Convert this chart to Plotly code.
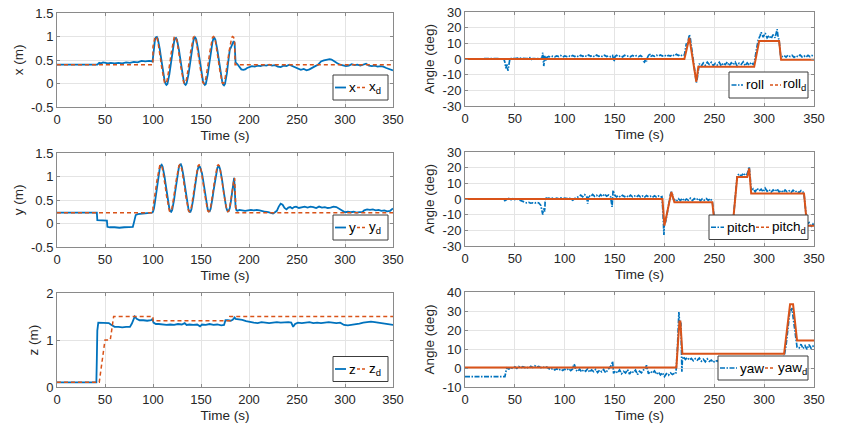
import plotly.graph_objects as go

# The page body has an 8px default margin, so the figure is drawn 8px in from the
# window corner; size it so that it ends exactly at the 857x423 window edge.
OFF = 8
W, H = 857 - OFF, 423 - OFF
FONT = "Liberation Sans, Arial, Helvetica, sans-serif"
TXT = "#262626"
AXC = "#8a8a8a"
GRID = "#e4e4e4"
BLUE = "#0072BD"
ORANGE = "#D95319"

# ---------------- data ----------------
time_ticks = [0, 50, 100, 150, 200, 250, 300, 350]
time_ticktext = ["0", "50", "100", "150", "200", "250", "300", "350"]
pos_ticks = [-0.5, 0, 0.5, 1, 1.5]
pos_ticktext = ["-0.5", "0", "0.5", "1", "1.5"]
z_ticks = [0, 1, 2]
z_ticktext = ["0", "1", "2"]
ang_ticks = [-30, -20, -10, 0, 10, 20, 30]
ang_ticktext = ["-30", "-20", "-10", "0", "10", "20", "30"]
yaw_ticks = [-10, 0, 10, 20, 30, 40]
yaw_ticktext = ["-10", "0", "10", "20", "30", "40"]

# x position (m)
t_x = ([0, 42, 44, 46, 48, 50, 53, 56, 60, 64, 68, 72, 76, 80, 84, 88, 92, 96, 99.5]
       + list(range(100, 187))
       + [188, 190, 192, 194, 196, 198, 200, 203, 206, 209, 212, 215, 218, 221, 224, 227, 230,
          233, 236, 239, 242, 245, 248, 251, 254, 257, 260, 263, 266, 269, 272, 275, 278, 281,
          284, 286, 289, 292, 295, 298, 301, 304, 307, 310, 313, 316, 319, 322, 325, 328, 331,
          334, 337, 340, 343, 346, 349, 350])
x_meas = ([0.40, 0.40, 0.44, 0.43, 0.45, 0.44, 0.43, 0.44, 0.43, 0.44, 0.43, 0.45, 0.44, 0.46,
           0.45, 0.48, 0.47, 0.48, 0.47]
          + [0.55, 0.78, 0.92, 0.98, 0.99, 0.95, 0.86, 0.74, 0.60, 0.45, 0.30, 0.17, 0.07, 0.00,
             -0.03, -0.01, 0.07, 0.19, 0.33, 0.49,
             0.64, 0.78, 0.89, 0.96, 0.97, 0.93, 0.84, 0.72, 0.58, 0.43, 0.28, 0.15, 0.05, -0.01,
             -0.03, 0.00, 0.08, 0.20, 0.34, 0.50,
             0.65, 0.79, 0.90, 0.97, 0.98, 0.94, 0.85, 0.73, 0.59, 0.44, 0.29, 0.16, 0.06, 0.00,
             -0.03, -0.01, 0.07, 0.19, 0.33, 0.49,
             0.64, 0.78, 0.89, 0.96, 0.97, 0.93, 0.84, 0.72, 0.58, 0.43, 0.28, 0.15, 0.05, -0.02,
             -0.04, -0.01, 0.08, 0.22, 0.40, 0.58,
             0.72, 0.76, 0.82, 0.88, 0.90, 0.86, 0.45]
          + [0.41, 0.36, 0.30, 0.29, 0.30, 0.33, 0.34, 0.37, 0.36, 0.38, 0.37, 0.39, 0.38, 0.40,
             0.38, 0.39, 0.36, 0.35, 0.38, 0.37, 0.40, 0.37, 0.34, 0.31, 0.29, 0.31, 0.28, 0.30,
             0.34, 0.37, 0.40, 0.47, 0.49, 0.50, 0.52, 0.51, 0.46, 0.43, 0.40, 0.39, 0.37, 0.38,
             0.41, 0.39, 0.40, 0.38, 0.40, 0.42, 0.38, 0.37, 0.38, 0.36, 0.37, 0.36, 0.33, 0.31,
             0.29, 0.28])
t_xd = [0, 99.9] + list(range(100, 186)) + [185.5, 350]
x_des = ([0.4, 0.4]
         + [0.79, 0.90, 0.98, 1.00, 0.98, 0.90, 0.79, 0.65, 0.50, 0.35, 0.21, 0.10, 0.02, 0.00,
            0.02, 0.10, 0.21, 0.35, 0.50, 0.65,
            0.79, 0.90, 0.98, 1.00, 0.98, 0.90, 0.79, 0.65, 0.50, 0.35, 0.21, 0.10, 0.02, 0.00,
            0.02, 0.10, 0.21, 0.35, 0.50, 0.65,
            0.79, 0.90, 0.98, 1.00, 0.98, 0.90, 0.79, 0.65, 0.50, 0.35, 0.21, 0.10, 0.02, 0.00,
            0.02, 0.10, 0.21, 0.35, 0.50, 0.65,
            0.79, 0.90, 0.98, 1.00, 0.98, 0.90, 0.79, 0.65, 0.50, 0.35, 0.21, 0.10, 0.02, 0.00,
            0.02, 0.10, 0.21, 0.35, 0.50, 0.65,
            0.79, 0.90, 0.98, 1.00, 0.98, 0.90]
         + [0.4, 0.4])

# y position (m)
t_y = ([0, 41.5, 42, 47, 52, 52.5, 55, 60, 65, 70, 75, 79, 80.5, 82, 84, 88, 92, 96, 99]
       + list(range(100, 185))
       + [184.5, 185, 186, 187, 188, 190, 193, 196, 199, 202, 205, 208, 211, 214, 217, 220, 223,
          225, 227, 229, 231, 233, 235, 237, 239, 241, 243, 245, 247, 249, 252, 255, 258, 261,
          264, 267, 270, 273, 276, 279, 282, 285, 288, 291, 294, 297, 300, 303, 306, 309, 312,
          315, 318, 320, 323, 326, 329, 332, 335, 338, 341, 344, 347, 350])
y_meas = ([0.23, 0.23, 0.07, 0.06, 0.06, -0.07, -0.08, -0.08, -0.09, -0.08, -0.08, -0.07, 0.05,
           0.18, 0.20, 0.21, 0.21, 0.22, 0.23]
          + [0.25, 0.32, 0.45, 0.60, 0.76, 0.92, 1.06, 1.17, 1.23, 1.25, 1.21, 1.12, 1.00, 0.86,
             0.70, 0.55, 0.42, 0.32, 0.26, 0.25,
             0.29, 0.38, 0.51, 0.66, 0.82, 0.97, 1.10, 1.20, 1.25, 1.26, 1.21, 1.11, 0.98, 0.83,
             0.67, 0.52, 0.39, 0.30, 0.25, 0.25,
             0.30, 0.40, 0.53, 0.68, 0.84, 0.98, 1.10, 1.18, 1.22, 1.20, 1.15, 1.07, 0.95, 0.81,
             0.66, 0.51, 0.39, 0.30, 0.26, 0.26,
             0.31, 0.41, 0.54, 0.69, 0.84, 0.98, 1.10, 1.18, 1.22, 1.21, 1.15, 1.05, 0.92, 0.77,
             0.62, 0.48, 0.37, 0.29, 0.26, 0.27,
             0.33, 0.45, 0.60, 0.78, 0.95]
          + [0.97, 0.80, 0.35, 0.28, 0.27, 0.29, 0.28, 0.27, 0.28, 0.29, 0.28, 0.29, 0.28, 0.26,
             0.25, 0.24, 0.22, 0.21, 0.24, 0.27, 0.36, 0.42, 0.40, 0.33, 0.30, 0.34, 0.35, 0.32,
             0.35, 0.36, 0.33, 0.35, 0.36, 0.34, 0.36, 0.35, 0.33, 0.36, 0.34, 0.35, 0.33, 0.34,
             0.36, 0.35, 0.31, 0.27, 0.24, 0.25, 0.24, 0.25, 0.23, 0.24, 0.24, 0.28, 0.30, 0.29,
             0.30, 0.28, 0.29, 0.27, 0.28, 0.26, 0.27, 0.32])
t_yd = [0, 99.9] + list(range(100, 186)) + [186.5, 350]
y_des = ([0.23, 0.23]
         + [0.35, 0.46, 0.60, 0.75, 0.90, 1.04, 1.15, 1.23, 1.25, 1.23, 1.15, 1.04, 0.90, 0.75,
            0.60, 0.46, 0.35, 0.27, 0.25, 0.27,
            0.35, 0.46, 0.60, 0.75, 0.90, 1.04, 1.15, 1.23, 1.25, 1.23, 1.15, 1.04, 0.90, 0.75,
            0.60, 0.46, 0.35, 0.27, 0.25, 0.27,
            0.35, 0.46, 0.60, 0.75, 0.90, 1.04, 1.15, 1.23, 1.25, 1.23, 1.15, 1.04, 0.90, 0.75,
            0.60, 0.46, 0.35, 0.27, 0.25, 0.27,
            0.35, 0.46, 0.60, 0.75, 0.90, 1.04, 1.15, 1.23, 1.25, 1.23, 1.15, 1.04, 0.90, 0.75,
            0.60, 0.46, 0.35, 0.27, 0.25, 0.27,
            0.35, 0.46, 0.60, 0.75, 0.90, 0.97]
         + [0.23, 0.23])

# z position (m)
t_z = [0, 41, 41.5, 42, 43, 46, 50, 54, 56, 58, 60, 64, 68, 72, 76, 78, 80, 81, 83, 86, 90, 94,
       98, 99.5, 100.5, 103, 106, 110, 114, 118, 122, 126, 130, 133, 135, 138, 142, 146, 149, 151,
       155, 159, 163, 167, 171, 174, 175.5, 178, 181, 183, 185, 186, 189, 193, 197, 201, 205, 209,
       213, 217, 221, 225, 229, 233, 237, 241, 244, 246, 248, 251, 255, 259, 263, 267, 271, 275,
       279, 283, 287, 291, 295, 299, 303, 307, 311, 315, 319, 323, 327, 331, 335, 339, 343, 347,
       350]
z_meas = [0.10, 0.10, 0.60, 1.20, 1.37, 1.37, 1.36, 1.36, 1.33, 1.30, 1.28, 1.28, 1.27, 1.28, 1.28,
          1.35, 1.45, 1.50, 1.45, 1.42, 1.42, 1.41, 1.42, 1.45, 1.37, 1.34, 1.34, 1.33, 1.32, 1.33,
          1.32, 1.34, 1.33, 1.36, 1.32, 1.33, 1.32, 1.33, 1.29, 1.33, 1.32, 1.34, 1.32, 1.33, 1.31,
          1.32, 1.42, 1.42, 1.41, 1.43, 1.48, 1.45, 1.44, 1.43, 1.40, 1.38, 1.37, 1.36, 1.38, 1.37,
          1.36, 1.37, 1.38, 1.37, 1.38, 1.38, 1.37, 1.28, 1.34, 1.37, 1.36, 1.37, 1.38, 1.36, 1.37,
          1.36, 1.37, 1.38, 1.37, 1.36, 1.37, 1.32, 1.31, 1.32, 1.34, 1.35, 1.37, 1.38, 1.39, 1.38,
          1.37, 1.36, 1.35, 1.33, 1.32]
t_zd = [0, 44, 50, 55.5, 59, 100, 100.01, 180, 180.01, 350]
z_des = [0.10, 0.10, 1.00, 1.00, 1.50, 1.50, 1.41, 1.41, 1.50, 1.50]

# roll (deg)
t_roll = [0, 10, 20, 30, 39, 40, 41, 42, 43, 44, 45, 47, 50, 53, 56, 59, 62, 65, 66, 68, 71, 74,
          77, 78, 79, 80, 81, 82, 84, 86, 88, 90, 92, 94, 96, 98, 100, 102, 104, 106, 108, 110,
          112, 114, 116, 118, 120, 122, 124, 126, 128, 130, 132, 134, 136, 138, 140, 142, 144,
          146, 148, 149.5, 150.5, 152, 154, 156, 158, 160, 162, 164, 166, 168, 170, 172, 174, 176,
          178, 179, 180, 181, 182, 183, 185, 186, 188, 190, 192, 194, 196, 198, 200, 202, 204,
          206, 208, 210, 212, 214, 216, 218, 220, 221, 222, 223, 224, 225, 226, 227, 228, 229,
          230, 231, 232, 233, 234, 235, 237, 239, 241, 243, 245, 247, 249, 251, 253, 255, 257,
          259, 261, 263, 265, 267, 269, 271, 273, 275, 277, 279, 281, 283, 285, 287, 289, 290,
          292, 294, 296, 297, 299, 301, 303, 305, 307, 309, 311, 313, 314, 315, 316.5, 318, 320,
          322, 324, 326, 328, 330, 332, 334, 336, 338, 340, 342, 344, 346, 348, 350]
roll_meas = [0, 0.2, 0, 0.3, 0, -2, -6, -3, -7.5, -4, 0, 0.5, 0.3, 0.6, 0.4, 0.5, 0.3, 0.8, -0.5,
             0.3, 0.4, 0.5, 0.3, 4, -4.5, 2, -1, 1, 1.6, 1.2, 1.8, 1.4, 2.0, 1.5, 2.2, 1.3, 1.9,
             1.5, 2.1, 1.4, 2.3, 1.6, 2.0, 1.3, 2.4, 1.7, 2.2, 1.5, 2.6, 1.8, 2.3, 1.4, 2.5, 1.7,
             2.1, 1.5, 2.4, 1.6, 2.0, 1.4, 2.2, -1.5, 1.6, 2.3, 1.5, 2.1, 1.3, 2.4, 1.7, 2.0, 1.4,
             2.3, 1.6, 2.1, 1.5, 2.2, 1.3, -1.5, -2, 0, -1.5, 1, 3.5, 1.5, 2.2, 1.7, 2.4, 1.8, 2.6,
             1.9, 2.5, 1.6, 2.3, 1.9, 2.8, 2.0, 3.0, 2.2, 2.8, 1.9, 2.5, 6, 10, 9, 13, 15.5, 13, 8,
             3, -2, -7, -11, -15, -12, -6, -3, -4.5, -2.5, -4, -2, -3.5, -2.2, -4.2, -2.8, -3.8,
             -2.1, -4.4, -2.6, -3.6, -1.9, -4.3, -2.4, -3.7, -2.0, -4.5, -2.7, -3.5, -1.8, -4.2,
             -2.5, -3.9, -2.2, -3.4, -3, 5, 12, 15, 17, 14, 16.5, 13.5, 15, 13, 15.5, 13.5, 19, 14,
             12, 2, 1.5, 2.2, 1.2, 2.5, 1.6, 2.3, 1.0, 2.1, 1.4, 2.6, 1.3, 2.0, 1.1, 2.4, 1.5, 2.2,
             1.2]
t_rolld = [0, 220, 225, 232, 234, 290, 295, 315, 317, 350]
roll_des = [0, 0, 13.5, -14.5, -5, -5, 11.5, 11.5, -0.5, -0.5]

# pitch (deg)
t_pitch = [0, 39, 40, 42, 44, 46, 48, 50, 52, 55, 58, 60, 62, 64, 66, 68, 70, 72, 74, 76, 77, 78,
           79, 80, 80.5, 82, 84, 86, 88, 90, 92, 94, 96, 98, 100, 102, 104, 106, 108, 110, 112,
           114, 116, 118, 120, 122, 123, 124, 126, 128, 130, 132, 134, 136, 138, 140, 142, 144,
           146, 147.5, 148.5, 150, 152, 154, 156, 158, 160, 162, 164, 166, 168, 170, 172, 174,
           176, 178, 180, 182, 184, 186, 188, 190, 192, 194, 196, 197.5, 198.5, 199, 199.5, 200,
           201, 202, 203, 204, 205, 206, 207, 208, 209, 210, 212, 214, 216, 218, 220, 222, 224,
           226, 228, 230, 232, 234, 236, 238, 240, 242, 244, 246, 248, 250, 251, 268, 270, 272,
           273, 275, 277, 279, 281, 283, 285, 286, 287, 289, 291, 293, 295, 297, 299, 301, 303,
           305, 307, 309, 311, 313, 315, 317, 319, 321, 323, 325, 327, 329, 331, 333, 335, 337,
           339, 340, 342, 343, 345, 347, 349, 350]
pitch_meas = [0, 0, -1, -0.5, 0.3, -0.5, 0.2, -0.4, 0, -0.8, -1.5, -2, -2.5, -2.2, -2.7, -2.4,
              -2.6, -2.2, -2.5, -4, -8, -10, -6, -8, 1, 0.3, 0.6, 0.1, 0.5, 0, 0.6, 0.2, 0.7,
              0.1, 0.5, 0.2, 0.8, 0.1, -0.8, 0.3, 0.8, 1.5, 2.5, 1.4, 2.8, 1.6, -3, 2.2, 1.5,
              2.9, 1.7, 2.4, 1.3, 2.7, 1.6, 3.2, 1.8, 2.5, 1.4, -5, 5.5, 2.6, 1.4, 2.2, 1.2, 2.4,
              1.5, 2.1, 1.1, 2.5, 1.4, 2.0, 1.2, 2.3, 1.3, 1.9, 1.1, 2.2, 1.4, 1.8, 1.0, 2.1, 1.3,
              1.9, 1.2, 1.5, -8, -15, -23, -13, -15, -12, -8, -4, 0, 3, 4.5, 3, 0, -0.5, -1.5,
              0.2, -1.0, 0.4, -1.2, 0.0, -0.8, 0.5, -1.0, 0.2, -0.6, 0.4, -1.1, 0.1, -0.7, 0.3,
              -0.9, 0.2, -1.5, -12, -20, -20, -5, 10, 15, 16, 14.5, 16.5, 15, 16, 20.5, 14, 5,
              6.5, 4.5, 6.8, 5.2, 6.2, 4.6, 6.9, 5.0, 6.0, 4.3, 5.8, 4.8, 6.4, 4.5, 5.5, 4.2, 5.7,
              4.6, 5.3, 4.1, 5.6, 4.4, 5.2, 4.0, 5.4, 4.5, 3, -10, -16, -15, -18, -16, -17]
t_pitchd = [0, 198, 200, 207, 210, 248, 251, 268, 273, 283, 285, 287, 340, 343, 350]
pitch_des = [0, 0, -17, 4.5, -2, -2, -20, -20, 14, 14, 19.5, 3.5, 3.5, -17, -17]

# yaw (deg)
t_yaw = [0, 40, 41, 42, 44, 46, 48, 50, 52, 54, 56, 58, 60, 62, 64, 66, 68, 70, 72, 74, 76, 78,
         80, 82, 84, 86, 88, 90, 92, 94, 96, 98, 100, 102, 104, 106, 108, 109, 110, 111, 113,
         115, 117, 119, 121, 123, 125, 127, 129, 131, 133, 135, 137, 139, 141, 143, 145, 147,
         148, 149, 151, 153, 155, 157, 159, 161, 163, 165, 167, 169, 171, 173, 175, 177, 179,
         181, 182, 184, 186, 188, 190, 192, 194, 196, 198, 200, 202, 204, 206, 208, 210, 211.5,
         213, 214, 214.5, 215.5, 216.5, 217, 217.5, 218, 219, 221, 223, 225, 227, 229, 231, 233,
         235, 237, 239, 241, 243, 245, 247, 249, 251, 253, 255, 258, 262, 266, 270, 274, 278,
         282, 286, 290, 294, 298, 302, 306, 310, 314, 318, 320, 322, 324, 326, 327, 328, 329,
         331, 333, 335, 337, 339, 341, 343, 345, 347, 349, 350]
yaw_meas = [-4.5, -4.5, -2, 0, -0.5, 0.3, -0.4, 0.6, -0.2, 0.8, 0.1, 0.7, 0.2, 0.5, -0.1, 0.9,
            0.3, 1.2, 0.4, 0.8, 0.2, 0.6, 0.1, 0.5, -0.3, -0.8, -0.2, -1.0, -0.4, -1.2, -0.5,
            -1.3, -0.6, -1.1, -0.3, -1.4, -0.5, 2, 1.5, -1.0, -1.8, -0.6, -2.0, -0.9, -1.7, -0.4,
            -2.2, -1.0, -1.9, -0.7, -2.4, -1.1, -2.0, -0.8, -2.5, -1.2, -0.2, 1.5, 3.5, -2.8,
            -1.5, -2.6, -1.0, -3.0, -1.8, -2.6, -0.9, -3.2, -1.6, -2.4, -1.1, -3.5, -1.7, -2.5,
            -1.0, -0.5, 1.5, -3.0, -1.8, -2.7, -1.5, -3.3, -2.2, -3.6, -2.5, -4.5, -3.0, -3.8,
            -2.6, -3.4, -2.8, -3, 10, 25, 29.5, 22, 24, 12, -2, 4, 6, 4.5, 5.5, 4.2, 5.0, 3.8,
            4.9, 4.1, 5.2, 3.6, 4.6, 3.3, 4.8, 3.5, 4.2, 2.9, 4.0, 3.5, 4.5, 3.8, 4.6, 3.9, 4.8,
            4.1, 5.0, 4.2, 4.9, 4.3, 5.1, 4.4, 5.2, 4.6, 5.5, 4.8, 5.6, 6, 12, 22, 31, 30, 31.5,
            27, 18, 11, 10.5, 12.5, 10.2, 11.8, 9.8, 12.3, 10.5, 11.5, 10.6]
t_yawd = [0, 212, 215, 216, 218, 320, 326, 329, 333, 350]
yaw_des = [0.3, 0.3, 24.5, 24.5, 7.5, 7.5, 33.5, 33.5, 14.5, 14.5]

# ---------------- figure ----------------
fig = go.Figure()


def add_line(t, v, k, color, dash, width):
    fig.add_trace(go.Scatter(
        x=t, y=v, xaxis="x" if k == 1 else f"x{k}", yaxis="y" if k == 1 else f"y{k}",
        mode="lines", line=dict(color=color, dash=dash, width=width),
        showlegend=False, hoverinfo="skip"))


DASH_L = "4px,3px"
DASHDOT = "5px,1.5px,1.5px,1.5px"
add_line(t_x, x_meas, 1, BLUE, "solid", 1.8)
add_line(t_xd, x_des, 1, ORANGE, DASH_L, 1.5)
add_line(t_roll, roll_meas, 2, BLUE, DASHDOT, 1.7)
add_line(t_rolld, roll_des, 2, ORANGE, "solid", 2)
add_line(t_y, y_meas, 3, BLUE, "solid", 1.8)
add_line(t_yd, y_des, 3, ORANGE, DASH_L, 1.5)
add_line(t_pitch, pitch_meas, 4, BLUE, DASHDOT, 1.7)
add_line(t_pitchd, pitch_des, 4, ORANGE, "solid", 2)
add_line(t_z, z_meas, 5, BLUE, "solid", 1.8)
add_line(t_zd, z_des, 5, ORANGE, DASH_L, 1.5)
add_line(t_yaw, yaw_meas, 6, BLUE, DASHDOT, 1.7)
add_line(t_yawd, yaw_des, 6, ORANGE, "solid", 2)

tickfont = dict(family=FONT, size=13, color=TXT)
titlefont = dict(family=FONT, size=13.5, color=TXT)


def px(x):
    return (x - OFF) / W


def py(y):
    return 1 - (y - OFF) / H


LEFT = [px(57), px(393)]
RIGHT = [px(465), px(814)]
rows_left = [(13, 107), (153, 247), (293, 387)]
rows_right = [(12, 106), (152, 246), (292, 387)]

yspec = {
    1: ("x (m)", [-0.5, 1.5], pos_ticks, pos_ticktext),
    2: ("Angle (deg)", [-30, 30], ang_ticks, ang_ticktext),
    3: ("y (m)", [-0.5, 1.5], pos_ticks, pos_ticktext),
    4: ("Angle (deg)", [-30, 30], ang_ticks, ang_ticktext),
    5: ("z (m)", [0, 2], z_ticks, z_ticktext),
    6: ("Angle (deg)", [-10, 40], yaw_ticks, yaw_ticktext),
}

layout = dict(
    width=W, height=H, margin=dict(l=0, r=0, t=0, b=0),
    paper_bgcolor="white", plot_bgcolor="white", showlegend=False,
    font=dict(family=FONT, size=13, color=TXT),
)

common = dict(showline=True, linecolor=AXC, linewidth=1, mirror="ticks", ticks="inside",
              ticklen=3, tickcolor=AXC, tickwidth=1, showgrid=True, gridcolor=GRID,
              gridwidth=1, zeroline=False, tickfont=tickfont, automargin=False,
              ticklabeloverflow="allow")

for k in range(1, 7):
    col = LEFT if k % 2 == 1 else RIGHT
    r = (k - 1) // 2
    top, bot = (rows_left if k % 2 == 1 else rows_right)[r]
    ydom = [py(bot), py(top)]
    sx = "" if k == 1 else str(k)
    title, rng, tv, tt = yspec[k]
    layout[f"xaxis{sx}"] = dict(common, domain=col, range=[0, 350], tickvals=time_ticks,
                                ticktext=time_ticktext, anchor=f"y{sx}",
                                title=dict(text="Time (s)", font=titlefont, standoff=4))
    layout[f"yaxis{sx}"] = dict(common, domain=ydom, range=rng, tickvals=tv, ticktext=tt,
                                anchor=f"x{sx}",
                                title=dict(text=title, font=titlefont, standoff=4))

# ---------------- hand-built legends (MATLAB style, southeast) ----------------
shapes = []
annotations = []


def legend(box, items):
    x0, x1, y0, y1 = box
    shapes.append(dict(type="rect", xref="paper", yref="paper", x0=px(x0), x1=px(x1),
                       y0=py(y1), y1=py(y0), fillcolor="white",
                       line=dict(color="#3c3c3c", width=1), layer="above"))
    yc = (y0 + y1) / 2
    for lx0, lx1, color, dash, width, text, tx in items:
        shapes.append(dict(type="line", xref="paper", yref="paper", x0=px(lx0), x1=px(lx1),
                           y0=py(yc), y1=py(yc), line=dict(color=color, dash=dash, width=width),
                           layer="above"))
        annotations.append(dict(xref="paper", yref="paper", x=px(tx), y=py(yc), text=text,
                                showarrow=False, xanchor="left", yanchor="middle",
                                font=dict(family=FONT, size=13.5, color="#000000")))


LEG_DASH = "3px,2px"
for top, name in [(75, "x"), (215, "y"), (356.5, "z")]:
    legend((333, 388, top, top + 25),
           [(335, 346, BLUE, "solid", 1.8, name, 347),
            (357, 366, ORANGE, LEG_DASH, 1.5, f"{name}<sub>d</sub>", 366.5)])

legend((729, 808, 72, 98),
       [(731.5, 743, BLUE, DASHDOT, 1.5, "roll", 743.5),
        (770, 781, ORANGE, LEG_DASH, 1.5, "roll<sub>d</sub>", 781)])
legend((709, 808, 215, 239.5),
       [(711, 724, BLUE, DASHDOT, 1.5, "pitch", 724.5),
        (756, 769, ORANGE, LEG_DASH, 1.5, "pitch<sub>d</sub>", 769.5)])
legend((718, 808, 356, 380),
       [(720, 737, BLUE, DASHDOT, 1.5, "yaw", 737.5),
        (765, 775, ORANGE, LEG_DASH, 1.5, "yaw<sub>d</sub>", 775.5)])

layout["shapes"] = shapes
layout["annotations"] = annotations
fig.update_layout(**layout)
fig.write_html("out.html")
